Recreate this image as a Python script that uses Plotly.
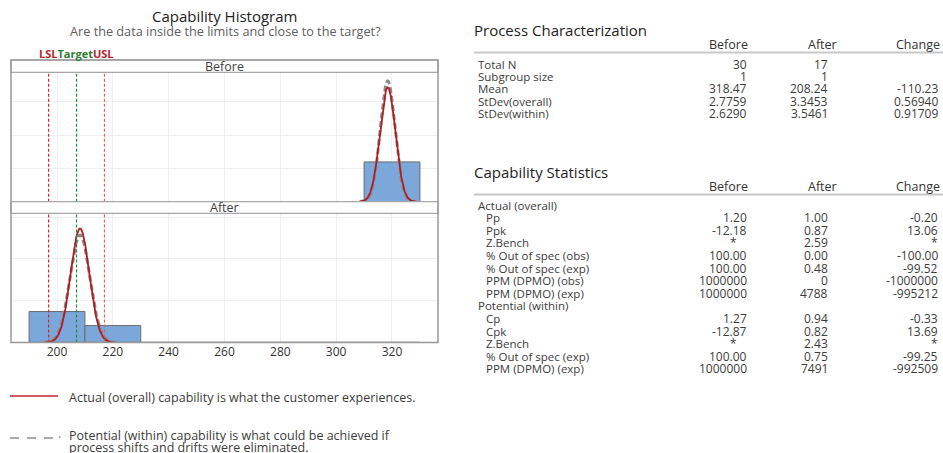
import numpy as np
import plotly.graph_objects as go

W, H = 943, 453
FONT = "Open Sans"
TXT = "#3c3c3c"

# ---------------- data ----------------
LSL, TARGET, USL = 197, 207, 217
panels = ["Before", "After"]
means = [318.47, 208.24]
sd_overall = [2.7759, 3.3453]
sd_within = [2.6290, 3.5461]
bin_edges = [[310, 330], [190, 210, 230]]
bin_counts = [[30], [11, 6]]
x_ticks = [200, 220, 240, 260, 280, 300, 320]

pc_labels = ["Total N", "Subgroup size", "Mean", "StDev(overall)", "StDev(within)"]
pc_before = ["30", "1", "318.47", "2.7759", "2.6290"]
pc_after = ["17", "1", "208.24", "3.3453", "3.5461"]
pc_change = ["", "", "-110.23", "0.56940", "0.91709"]

cs_labels = ["Actual (overall)", "Pp", "Ppk", "Z.Bench", "% Out of spec (obs)", "% Out of spec (exp)",
             "PPM (DPMO) (obs)", "PPM (DPMO) (exp)", "Potential (within)", "Cp", "Cpk", "Z.Bench",
             "% Out of spec (exp)", "PPM (DPMO) (exp)"]
cs_indent = [False, True, True, True, True, True, True, True, False, True, True, True, True, True]
cs_before = ["", "1.20", "-12.18", "*", "100.00", "100.00", "1000000", "1000000", "", "1.27", "-12.87", "*", "100.00", "1000000"]
cs_after = ["", "1.00", "0.87", "2.59", "0.00", "0.48", "0", "4788", "", "0.94", "0.82", "2.43", "0.75", "7491"]
cs_change = ["", "-0.20", "13.06", "*", "-100.00", "-99.52", "-1000000", "-995212", "", "-0.33", "13.69", "*", "-99.25", "-992509"]

# ---------------- layout helpers (screen pixels -> paper) ----------------
def px(x):
    return x / W

def py(y):
    return 1 - y / H

box_l, box_r = 11, 438
panel_y = [(72.3, 201.7), (213.3, 342.5)]
strip_y = [(60, 72.3), (201.7, 213.3)]
y_top = [0.1626, 0.135]
y_dtick = [0.0419, 0.0437]
x_range = [183.52, 336.48]

fig = go.Figure()

def pdf(x, m, s):
    return np.exp(-0.5 * ((x - m) / s) ** 2) / (s * np.sqrt(2 * np.pi))

shapes = []
annotations = []

for i, name in enumerate(panels):
    xa = "x" if i == 0 else "x2"
    ya = "y" if i == 0 else "y2"
    edges = np.array(bin_edges[i], dtype=float)
    counts = np.array(bin_counts[i], dtype=float)
    N = counts.sum()
    widths = np.diff(edges)
    centers = edges[:-1] + widths / 2
    dens = counts / (N * widths)
    fig.add_trace(go.Bar(x=centers, y=dens, width=widths, xaxis=xa, yaxis=ya,
                         marker=dict(color="#7ba7da", line=dict(color="#6b6b6b", width=1)),
                         showlegend=False, hoverinfo="skip"))
    m = means[i]
    so, sw = sd_overall[i], sd_within[i]
    xw = np.linspace(m - 3.7 * sw, m + 3.7 * sw, 200)
    xo = np.linspace(m - 3.7 * so, m + 3.7 * so, 200)
    fig.add_trace(go.Scatter(x=xw, y=pdf(xw, m, sw), mode="lines", xaxis=xa, yaxis=ya,
                             line=dict(color="#8c8c8c", width=3, dash="6px,3px"),
                             showlegend=False, hoverinfo="skip"))
    fig.add_trace(go.Scatter(x=xo, y=pdf(xo, m, so), mode="lines", xaxis=xa, yaxis=ya,
                             line=dict(color="#b01e23", width=1.8),
                             showlegend=False, hoverinfo="skip"))
    fig.add_trace(go.Scatter(x=[190, 330], y=[0, 0], mode="lines", xaxis=xa, yaxis=ya,
                             line=dict(color="#7a7a7a", width=1.5),
                             showlegend=False, hoverinfo="skip"))
    for val, col in [(LSL, "#cc2b2b"), (TARGET, "#1e8a3c"), (USL, "#e06060")]:
        shapes.append(dict(type="line", xref=xa, yref=ya + " domain", x0=val, x1=val, y0=0, y1=1,
                           line=dict(color=col, width=1.2, dash="3px,2px"), layer="above"))
    s0, s1 = strip_y[i]
    shapes.append(dict(type="rect", xref="paper", yref="paper", x0=px(box_l), x1=px(box_r),
                       y0=py(s1), y1=py(s0), line=dict(color="#a8a8a8", width=1.2), fillcolor="white"))
    annotations.append(dict(text=name, x=px((box_l + box_r) / 2), y=py((s0 + s1) / 2), xref="paper", yref="paper",
                            showarrow=False, xanchor="center", yanchor="middle",
                            font=dict(family=FONT, size=12.5, color="#404040")))

shapes.append(dict(type="rect", xref="paper", yref="paper", x0=px(box_l), x1=px(box_r),
                   y0=py(342.5), y1=py(60), line=dict(color="#999999", width=1.5)))

axis_common = dict(range=x_range, tickvals=x_ticks, showgrid=True, gridcolor="#efefef", gridwidth=1,
                   zeroline=False, showline=False, ticks="", fixedrange=True)
fig.update_layout(
    xaxis=dict(domain=[px(box_l), px(box_r)], anchor="y", showticklabels=False, **axis_common),
    yaxis=dict(domain=[py(panel_y[0][1]), py(panel_y[0][0])], range=[0, y_top[0]], dtick=y_dtick[0],
               showticklabels=False, showgrid=True, gridcolor="#efefef", zeroline=False, showline=False,
               fixedrange=True),
    xaxis2=dict(domain=[px(box_l), px(box_r)], anchor="y2", showticklabels=True,
                tickfont=dict(family=FONT, size=12, color="#333333"), **axis_common),
    yaxis2=dict(domain=[py(panel_y[1][1]), py(panel_y[1][0])], range=[0, y_top[1]], dtick=y_dtick[1],
                showticklabels=False, showgrid=True, gridcolor="#efefef", zeroline=False, showline=False,
                fixedrange=True),
)

# titles
annotations.append(dict(text="Capability Histogram", x=px(224), y=py(16), xref="paper", yref="paper",
                        showarrow=False, xanchor="center", yanchor="middle",
                        font=dict(family=FONT, size=15, color="#222222")))
annotations.append(dict(text="Are the data inside the limits and close to the target?", x=px(225), y=py(31),
                        xref="paper", yref="paper", showarrow=False, xanchor="center", yanchor="middle",
                        font=dict(family=FONT, size=12.7, color="#606060")))
annotations.append(dict(text="<b><span style='color:#b3262a'>LSL</span><span style='color:#2e7d32'>Target</span>"
                             "<span style='color:#b3262a'>USL</span></b>",
                        x=px(37), y=py(54), xref="paper", yref="paper", showarrow=False,
                        xanchor="left", yanchor="middle", font=dict(family=FONT, size=11)))

# bottom legend
shapes.append(dict(type="line", xref="paper", yref="paper", x0=px(10), x1=px(58), y0=py(396), y1=py(396),
                   line=dict(color="#c0282d", width=1.5)))
shapes.append(dict(type="line", xref="paper", yref="paper", x0=px(10), x1=px(53), y0=py(438), y1=py(438),
                   line=dict(color="#555555", width=1.2, dash="9px,8px")))
shapes.append(dict(type="line", xref="paper", yref="paper", x0=px(59), x1=px(60.5), y0=py(437), y1=py(437),
                   line=dict(color="#555555", width=1.2)))
annotations.append(dict(text="Actual (overall) capability is what the customer experiences.", x=px(67), y=py(397),
                        xref="paper", yref="paper", showarrow=False, xanchor="left", yanchor="middle",
                        font=dict(family=FONT, size=12.5, color=TXT)))
annotations.append(dict(text="Potential (within) capability is what could be achieved if",
                        x=px(67), y=py(435), xref="paper", yref="paper", showarrow=False, xanchor="left",
                        yanchor="middle", font=dict(family=FONT, size=12.5, color=TXT)))
annotations.append(dict(text="process shifts and drifts were eliminated.",
                        x=px(67), y=py(447.5), xref="paper", yref="paper", showarrow=False, xanchor="left",
                        yanchor="middle", font=dict(family=FONT, size=12.5, color=TXT)))

LFS = 11.5   # row label font size
VFS = 12     # value font size

def table(title, title_y, header_y, line_y, row_y0, step, labels, before, after, change, indent=None):
    annotations.append(dict(text=title, x=px(472), y=py(title_y), xref="paper", yref="paper",
                            showarrow=False, xanchor="left", yanchor="middle",
                            font=dict(family=FONT, size=15, color="#1e1e1e")))
    for t, xr in [("Before", 750), ("After", 839), ("Change", 942)]:
        annotations.append(dict(text=t, x=px(xr), y=py(header_y), xref="paper", yref="paper",
                                showarrow=False, xanchor="right", yanchor="middle",
                                font=dict(family=FONT, size=12.5, color="#333333")))
    shapes.append(dict(type="line", xref="paper", yref="paper", x0=px(474), x1=px(943),
                       y0=py(line_y), y1=py(line_y), line=dict(color="#c8c8c8", width=2)))
    for k, lab in enumerate(labels):
        yy = py(row_y0 + k * step)
        ind = 484 if (indent and indent[k]) else 476
        annotations.append(dict(text=lab, x=px(ind), y=yy, xref="paper", yref="paper", showarrow=False,
                                xanchor="left", yanchor="middle", font=dict(family=FONT, size=LFS, color=TXT)))
        for col, xr in [(before, 749), (after, 830), (change, 940)]:
            v = col[k]
            if not v:
                continue
            xx = xr - (10 if (v == "*" and col is before) else 0)
            annotations.append(dict(text=v, x=px(xx), y=yy, xref="paper", yref="paper", showarrow=False,
                                    xanchor="right", yanchor="middle",
                                    font=dict(family=FONT, size=VFS, color=TXT)))

table("Process Characterization", 30, 44, 52.5, 64, 12.4, pc_labels, pc_before, pc_after, pc_change)
table("Capability Statistics", 172, 186, 194.5, 205, 12.6, cs_labels, cs_before, cs_after, cs_change, cs_indent)

fig.update_layout(width=W, height=H, margin=dict(l=0, r=0, t=0, b=0), paper_bgcolor="white",
                  plot_bgcolor="white", shapes=shapes, annotations=annotations, bargap=0, showlegend=False,
                  hovermode=False)

fig.write_html("out.html", config={"displayModeBar": False, "staticPlot": True},
               post_script="document.body.style.margin='0';document.body.style.overflow='hidden';")
